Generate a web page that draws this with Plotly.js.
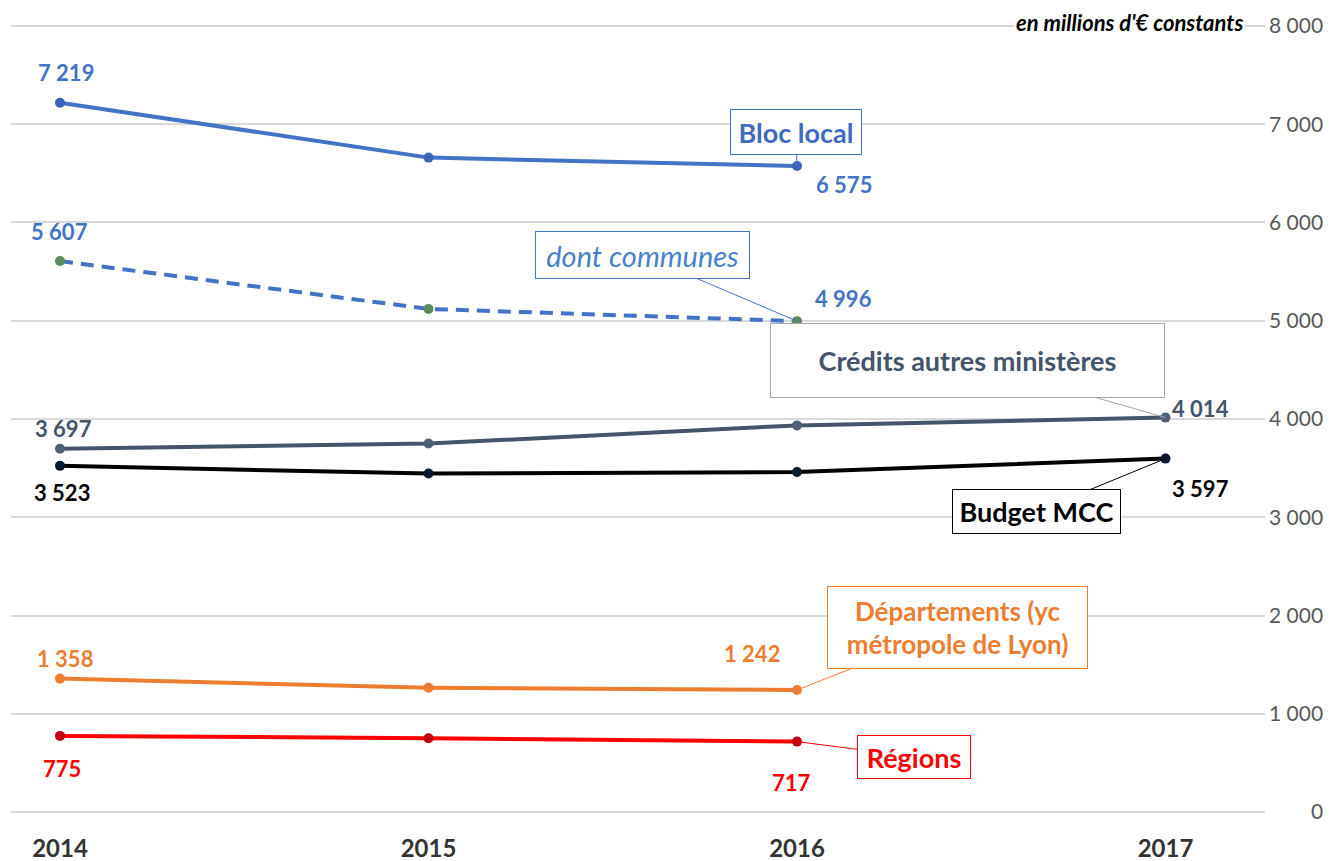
<!DOCTYPE html>
<html>
<head>
<meta charset="utf-8">
<script src="https://cdn.plot.ly/plotly-3.0.1.min.js"></script>
<style>
  html, body { margin: 0; padding: 0; background: #fff; }
  #chart { width: 1336px; height: 861px; }
</style>
</head>
<body>
<div id="chart"></div>
<script>
// ---- Data ----
const years = ['2014', '2015', '2016', '2017'];
const blocLocal = [7219, 6660, 6575, null];
const communes = [5607, 5120, 4996, null];
const creditsAutres = [3697, 3750, 3935, 4014];
const budgetMCC = [3523, 3445, 3460, 3597];
const departements = [1358, 1265, 1242, null];
const regions = [775, 752, 717, null];
const yTickVals = [0, 1000, 2000, 3000, 4000, 5000, 6000, 7000, 8000];
const yTickText = ['\u2007\u2007\u2007 0', '1 000', '2 000', '3 000', '4 000', '5 000', '6 000', '7 000', '8 000'];
const unitNote = "en millions d'€ constants";

const FONT = 'Lato, Carlito, "Open Sans", sans-serif';
const fmt = v => String(v).replace(/\B(?=(\d{3})+(?!\d))/g, ' ');

function line(name, y, color, markerColor, dash) {
  return {
    type: 'scatter', mode: 'lines+markers', name: name,
    x: years, y: y,
    line: { color: color, width: 4, dash: dash || 'solid' },
    marker: { color: markerColor, size: 10 },
    connectgaps: false, hoverinfo: 'skip'
  };
}

const traces = [
  line('Bloc local', blocLocal, '#4472C4', '#3B64B8'),
  line('dont communes', communes, '#4472C4', '#5B8A5E', '13px,8px'),
  line('Crédits autres ministères', creditsAutres, '#44546A', '#4F5F75'),
  line('Budget MCC', budgetMCC, '#000000', '#0B1A33'),
  line('Départements', departements, '#ED7D31', '#ED7D31'),
  line('Régions', regions, '#FF0000', '#C00010')
];

// category index for annotation positions
const xi = y => years.indexOf(y);

// value labels
function lab(year, y, color, xs, ys) {
  return {
    x: xi(year), y: y, xref: 'x', yref: 'y', text: fmt(y), showarrow: false,
    xshift: xs, yshift: ys,
    font: { family: FONT, size: 22, color: color, weight: 'bold' }
  };
}
const annotations = [
  lab(years[0], blocLocal[0], '#4472C4', 6, 30),
  lab(years[2], blocLocal[2], '#4472C4', 47, -19),
  lab(years[0], communes[0], '#4472C4', -1, 30),
  lab(years[2], communes[2], '#4472C4', 46, 23),
  lab(years[0], creditsAutres[0], '#44546A', 3, 20),
  lab(years[3], creditsAutres[3], '#44546A', 35, 9),
  lab(years[0], budgetMCC[0], '#000000', 2, -27),
  lab(years[3], budgetMCC[3], '#000000', 35, -30),
  lab(years[0], departements[0], '#ED7D31', 5, 20),
  lab(years[2], departements[2], '#ED7D31', -45, 37),
  lab(years[0], regions[0], '#FF0000', 2, -33),
  lab(years[2], regions[2], '#FF0000', -6, -41)
];

// callouts
function callout(year, y, text, color, border, ax, ay, w, h, extraFont) {
  return {
    x: xi(year), y: y, xref: 'x', yref: 'y', text: text,
    showarrow: true, arrowhead: 0, arrowwidth: 1, arrowcolor: border,
    ax: ax, ay: ay, standoff: 0,
    width: w, height: h, align: 'center', valign: 'middle',
    bgcolor: '#FFFFFF', bordercolor: border, borderwidth: 1, borderpad: 2,
    font: Object.assign({ family: FONT, size: 27, color: color, weight: 'bold' }, extraFont || {})
  };
}
annotations.push(
  callout(years[2], blocLocal[2], 'Bloc local', '#3F6BBF', '#4472C4', -1, -34, 126, 40),
  callout(years[2], communes[2], 'dont communes', '#4A7FD0', '#4472C4', -155, -66, 209, 42,
    { weight: 'normal', style: 'italic', size: 29 }),
  callout(years[3], creditsAutres[3], 'Crédits autres ministères', '#44546A', '#A6A6A6', -198, -57, 389, 69),
  callout(years[3], budgetMCC[3], 'Budget MCC', '#000000', '#000000', -129, 53, 163, 39),
  callout(years[2], departements[2], 'Départements (yc<br>métropole de Lyon)', '#ED7D31', '#ED7D31', 160, -63, 255, 77,
    { size: 26 }),
  callout(years[2], regions[2], 'Régions', '#FF0000', '#FF0000', 117, 15, 108, 38),
  {
    xref: 'paper', yref: 'y', x: 1, y: 8000, xanchor: 'right', yanchor: 'middle',
    xshift: -20, yshift: 3, text: unitNote, showarrow: false, bgcolor: '#FFFFFF',
    font: { family: FONT, size: 22, color: '#000000', weight: 'bold', style: 'italic' }
  }
);

const layout = {
  width: 1336, height: 861,
  margin: { l: 11, r: 71, t: 22, b: 45 },
  paper_bgcolor: '#FFFFFF', plot_bgcolor: '#FFFFFF',
  showlegend: false,
  xaxis: {
    type: 'category', categoryorder: 'array', categoryarray: years,
    range: [-0.133, 3.27], showgrid: false, zeroline: false, showline: false,
    ticks: '', ticklabelstandoff: 16,
    tickfont: { family: FONT, size: 24, color: '#333333', weight: 'bold' },
    fixedrange: true
  },
  yaxis: {
    side: 'right', range: [-40, 8040], tickvals: yTickVals, ticktext: yTickText,
    showgrid: true, gridcolor: '#D9D9D9', gridwidth: 2, zeroline: false, showline: false,
    ticks: '', ticklabelstandoff: 3,
    tickfont: { family: FONT, size: 21, color: '#595959' },
    fixedrange: true
  },
  annotations: annotations
};

Plotly.newPlot('chart', traces, layout, { displayModeBar: false, staticPlot: true });
</script>
</body>
</html>
